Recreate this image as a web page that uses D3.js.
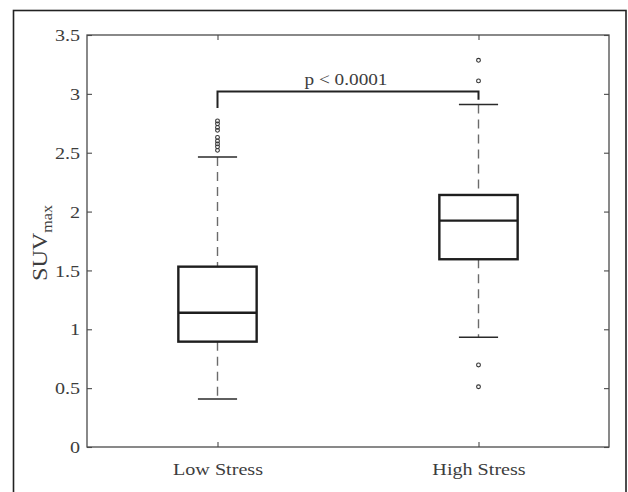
<!DOCTYPE html>
<html>
<head>
<meta charset="utf-8">
<script src="https://cdn.jsdelivr.net/npm/d3@7"></script>
<style>
  html, body { margin: 0; padding: 0; background: #fff; }
  svg { display: block; }
</style>
</head>
<body>
<svg id="chart" width="628" height="492"></svg>
<script>
// Groups and box-plot summary values (SUVmax)
const categories = ["Low Stress", "High Stress"];
const whiskerLow = [0.408, 0.932];
const q1 = [0.895, 1.595];
const medians = [1.141, 1.923];
const q3 = [1.532, 2.141];
const whiskerHigh = [2.464, 2.91];
const outliersLow = [2.77, 2.745, 2.715, 2.69, 2.63, 2.60, 2.575, 2.55, 2.52];
const outliersHigh = [3.285, 3.11, 0.697, 0.512];

// Axis ticks
const yTicks = [0, 0.5, 1, 1.5, 2, 2.5, 3, 3.5];
const yDomain = [0, 3.5];

// Significance bracket
const bracketTop = 3.02;
const bracketLegEnds = [2.88, 2.95];
const pLabel = "p < 0.0001";

const W = 628, H = 492;
const M = { left: 87, right: 609, top: 35, bottom: 447 };
const FONT = "'Liberation Serif', 'Times New Roman', serif";
const TEXT = "#3d3d3d";
const SX = 1.15;

const svg = d3.select("#chart");

// Outer figure frame
svg.append("rect")
  .attr("x", 13.5).attr("y", 10.5)
  .attr("width", 612.5).attr("height", 500)
  .attr("fill", "none").attr("stroke", "#222").attr("stroke-width", 1.6);

const x = d3.scalePoint().domain(categories).range([M.left, M.right]).padding(0.5);
const y = d3.scaleLinear().domain(yDomain).range([M.bottom, M.top]);
const boxW = x.step() * 0.3;
const capW = x.step() * 0.15;

// Axes: ticks pointing inward on all four sides
const axisColor = "#4a4a4a";
function styleAxis(g) {
  g.select(".domain").remove();
  g.selectAll(".tick line").attr("stroke", axisColor).attr("stroke-width", 1.1);
  g.selectAll("text").attr("fill", TEXT).attr("font-family", FONT).attr("font-size", 17.5);
}

svg.append("g").attr("transform", `translate(${M.left},0)`)
  .call(d3.axisLeft(y).tickValues(yTicks).tickSize(-5).tickPadding(6).tickFormat(d => String(d)))
  .call(styleAxis)
  .call(g => g.selectAll("text").attr("transform", `scale(${SX},1)`));

svg.append("g").attr("transform", `translate(${M.right},0)`)
  .call(d3.axisRight(y).tickValues(yTicks).tickSize(-5).tickFormat(""))
  .call(styleAxis);

svg.append("g").attr("transform", `translate(0,${M.bottom})`)
  .call(d3.axisBottom(x).tickSize(-5).tickPadding(16))
  .call(styleAxis)
  .call(g => g.selectAll("text").attr("transform", `scale(${SX},1)`));

svg.append("g").attr("transform", `translate(0,${M.top})`)
  .call(d3.axisTop(x).tickSize(-5).tickFormat(""))
  .call(styleAxis);

// Plot box outline
svg.append("rect")
  .attr("x", M.left).attr("y", M.top)
  .attr("width", M.right - M.left).attr("height", M.bottom - M.top)
  .attr("fill", "none").attr("stroke", axisColor).attr("stroke-width", 1.3);

// Y-axis label: SUV with subscript "max"
const yl = svg.append("text")
  .attr("transform", `translate(47,243) rotate(-90) scale(${SX},1)`)
  .attr("text-anchor", "middle")
  .attr("font-family", FONT).attr("font-size", 21).attr("fill", TEXT);
yl.append("tspan").text("SUV");
yl.append("tspan").attr("dy", 5).attr("font-size", 14).text("max");

// Box plots
const boxes = categories.map((c, i) => ({
  c, lo: whiskerLow[i], q1: q1[i], med: medians[i], q3: q3[i], hi: whiskerHigh[i]
}));

const bg = svg.append("g");
boxes.forEach(b => {
  const cx = x(b.c);
  // dashed whiskers
  [[b.q3, b.hi], [b.lo, b.q1]].forEach(([a, z]) => {
    bg.append("line")
      .attr("x1", cx).attr("x2", cx).attr("y1", y(z)).attr("y2", y(a))
      .attr("stroke", "#6b6b6b").attr("stroke-width", 1.4).attr("stroke-dasharray", "9,6");
  });
  // whisker caps
  [b.lo, b.hi].forEach(v => {
    bg.append("line")
      .attr("x1", cx - capW / 2).attr("x2", cx + capW / 2)
      .attr("y1", y(v)).attr("y2", y(v))
      .attr("stroke", "#2a2a2a").attr("stroke-width", 1.5);
  });
  // box
  bg.append("rect")
    .attr("x", cx - boxW / 2).attr("y", y(b.q3))
    .attr("width", boxW).attr("height", y(b.q1) - y(b.q3))
    .attr("fill", "none").attr("stroke", "#1e1e1e").attr("stroke-width", 2.4);
  // median
  bg.append("line")
    .attr("x1", cx - boxW / 2).attr("x2", cx + boxW / 2)
    .attr("y1", y(b.med)).attr("y2", y(b.med))
    .attr("stroke", "#1e1e1e").attr("stroke-width", 2.4);
});

// Outliers
const outliers = [
  ...outliersLow.map(v => ({ c: categories[0], v })),
  ...outliersHigh.map(v => ({ c: categories[1], v }))
];
svg.append("g").selectAll("circle").data(outliers).join("circle")
  .attr("cx", d => x(d.c)).attr("cy", d => y(d.v)).attr("r", 1.9)
  .attr("fill", "none").attr("stroke", "#333").attr("stroke-width", 1.1);

// Significance bracket
const bx0 = x(categories[0]), bx1 = x(categories[1]);
svg.append("path")
  .attr("d", `M${bx0},${y(bracketLegEnds[0])}V${y(bracketTop)}H${bx1}V${y(bracketLegEnds[1])}`)
  .attr("fill", "none").attr("stroke", "#222").attr("stroke-width", 2);

svg.append("text")
  .attr("transform", `translate(${(bx0 + bx1) / 2 - 2},${y(bracketTop) - 7}) scale(1.1,1)`)
  .attr("text-anchor", "middle")
  .attr("font-family", FONT).attr("font-size", 17.5).attr("fill", TEXT)
  .text(pLabel);
</script>
</body>
</html>
